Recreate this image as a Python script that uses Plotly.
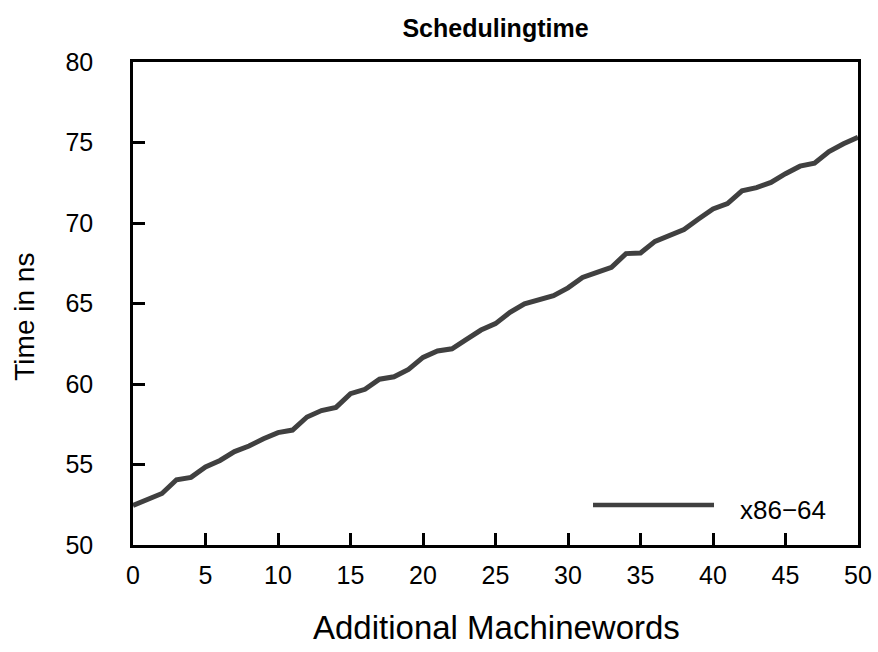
import plotly.graph_objects as go

title_text = "Schedulingtime"
x_title = "Additional Machinewords"
y_title = "Time in ns"
series_name = "x86\u221264"

machinewords = list(range(0, 51))
time_ns = [
    52.45, 52.8, 53.2, 54.05, 54.2, 54.85, 55.25, 55.8, 56.15, 56.6,
    56.98, 57.14, 57.95, 58.35, 58.55, 59.4, 59.67, 60.3, 60.45, 60.9,
    61.65, 62.05, 62.19, 62.77, 63.35, 63.75, 64.45, 64.98, 65.2, 65.49,
    65.97, 66.62, 66.94, 67.25, 68.1, 68.14, 68.86, 69.2, 69.6, 70.25,
    70.87, 71.2, 72.0, 72.2, 72.52, 73.06, 73.53, 73.72, 74.44, 74.92,
    75.33,
]

x_ticks = list(range(0, 51, 5))
y_ticks = list(range(50, 81, 5))

line_color = "#404040"
font_family = "Liberation Sans, Arial, sans-serif"

fig = go.Figure()
fig.add_trace(go.Scatter(
    x=machinewords, y=time_ns, mode="lines", name=series_name,
    line=dict(color=line_color, width=5), showlegend=False,
))

axis_common = dict(
    showline=True, linecolor="black", linewidth=2.5, mirror=True,
    ticks="inside", ticklen=12, tickwidth=2.5, tickcolor="black",
    showgrid=False, zeroline=False,
    tickfont=dict(family=font_family, size=25, color="black"),
)

fig.update_xaxes(range=[0, 50], tickvals=x_ticks, ticklabelstandoff=6, **axis_common)
fig.update_yaxes(range=[50, 80], tickvals=y_ticks, ticklabelstandoff=32, **axis_common)

fig.update_layout(
    width=878, height=652,
    margin=dict(l=133, r=20, t=61.5, b=107, autoexpand=False),
    plot_bgcolor="white", paper_bgcolor="white",
    font=dict(family=font_family, color="black"),
    title=dict(text="<b>" + title_text + "</b>", x=0.5, xref="paper",
               y=1 - 28 / 652, yref="container", yanchor="middle", xanchor="center",
               font=dict(size=25, family=font_family, color="black")),
    annotations=[
        dict(text=x_title, xref="paper", yref="paper", x=0.5016, y=-0.1717,
             xanchor="center", yanchor="middle", showarrow=False,
             font=dict(size=33, family=font_family, color="black")),
        dict(text=y_title, xref="paper", yref="paper", x=-0.149, y=0.4726,
             xanchor="center", yanchor="middle", textangle=-90, showarrow=False,
             font=dict(size=28, family=font_family, color="black")),
        dict(text=series_name, xref="paper", yref="paper", x=0.8345, y=0.0724,
             xanchor="left", yanchor="middle", showarrow=False,
             font=dict(size=26, family=font_family, color="black")),
    ],
    shapes=[
        dict(type="line", xref="paper", yref="paper", x0=0.6345, x1=0.8014,
             y0=0.0827, y1=0.0827, line=dict(color=line_color, width=4.5)),
    ],
)

fig.write_html("out.html", config={"displayModeBar": False},
               post_script="document.body.style.margin='0px';")
